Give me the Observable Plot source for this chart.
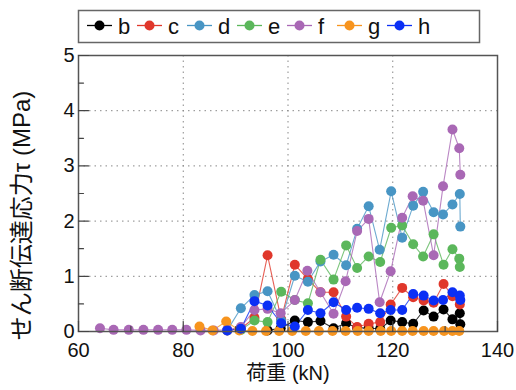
<!DOCTYPE html>
<html><head><meta charset="utf-8">
<script src="https://cdn.jsdelivr.net/npm/d3@7"></script>
<script src="https://cdn.jsdelivr.net/npm/@observablehq/plot@0.6"></script>
<style>
body{margin:0;background:#fff;font-family:"Liberation Sans",Arial,sans-serif;}
#wrap{position:relative;width:516px;height:390px;overflow:hidden;}
#legend{position:absolute;left:0;top:0;}
#chart{position:absolute;left:0;top:45px;}
</style></head><body>
<div id="wrap"><svg id="legend" width="516" height="45"></svg><div id="chart"></div></div>
<script>
// ---- data ----
const seriesNames = ["b","c","d","e","f","g","h"];
const seriesColors = ["#000000","#e0372b","#4895c4","#5bb75b","#a968b5","#f7941e","#0b2ff5"];

const bX = [96.1, 98.6, 101.3, 103.8, 106.2, 108.7, 111.1, 113.2, 115.4, 117.6, 119.6, 121.8, 123.9, 125.9, 127.8, 129.7, 131.4, 132.8, 132.9];
const bY = [0.02, 0.06, 0.20, 0.17, 0.19, 0.06, 0.15, 0.07, 0.06, 0.05, 0.20, 0.17, 0.14, 0.38, 0.27, 0.40, 0.22, 0.33, 0.13];

const cX = [88.4, 91.0, 93.6, 96.1, 98.7, 101.3, 103.8, 106.2, 108.7, 111.1, 113.2, 115.4, 117.6, 119.6, 121.8, 123.9, 125.9, 127.8, 129.7, 131.4, 132.8];
const cY = [0.02, 0.05, 0.25, 1.38, 0.22, 1.21, 0.95, 0.71, 0.71, 0.27, 0.08, 0.14, 0.17, 0.49, 0.79, 0.62, 0.56, 0.52, 0.86, 0.64, 0.49];

const dX = [88.4, 91.0, 93.6, 96.1, 98.7, 101.3, 103.8, 106.2, 108.7, 111.1, 113.2, 115.4, 117.5, 119.7, 121.8, 123.9, 125.8, 127.8, 129.6, 131.4, 132.8, 132.9];
const dY = [0.02, 0.42, 0.66, 0.73, 0.20, 1.01, 0.90, 1.27, 1.39, 1.20, 1.86, 2.27, 1.48, 2.54, 1.70, 2.28, 2.53, 2.16, 2.12, 2.30, 2.49, 1.90];

const eX = [91.0, 93.6, 96.1, 98.7, 101.3, 103.8, 106.2, 108.7, 111.1, 113.2, 115.4, 117.6, 119.7, 121.8, 123.9, 125.8, 127.8, 129.7, 131.4, 132.7, 132.8];
const eY = [0.03, 0.20, 0.17, 0.72, 0.57, 0.51, 1.30, 0.94, 1.56, 1.15, 1.36, 1.26, 1.88, 1.92, 1.58, 1.36, 1.76, 1.21, 1.49, 1.32, 1.17];

const fX = [64.1, 66.7, 69.6, 72.4, 75.2, 77.9, 80.6, 83.3, 85.8, 88.4, 91.0, 93.6, 96.1, 98.6, 101.3, 103.7, 106.2, 108.7, 111.0, 113.2, 115.4, 117.5, 119.6, 121.8, 123.8, 125.8, 127.8, 129.6, 131.4, 132.7, 132.9];
const fY = [0.06, 0.03, 0.03, 0.03, 0.03, 0.03, 0.03, 0.02, 0.02, 0.03, 0.08, 0.39, 0.41, 0.33, 0.57, 1.10, 0.71, 0.32, 0.91, 1.82, 2.04, 0.53, 1.09, 2.06, 2.45, 2.37, 1.38, 2.63, 3.66, 3.32, 2.84];

const gX = [83.1, 85.6, 88.2, 90.7, 93.2, 95.8, 98.3, 100.8, 103.4, 105.9, 108.5, 111.0, 113.3, 115.4, 117.7, 119.7, 121.8, 123.8, 125.9, 127.8, 129.8, 131.4, 132.7];
const gY = [0.09, 0.02, 0.18, 0.02, 0.01, 0.01, 0.01, 0.01, 0.01, 0.01, 0.01, 0.01, 0.01, 0.01, 0.01, 0.01, 0.01, 0.01, 0.01, 0.01, 0.01, 0.01, 0.01];

const hX = [88.4, 91.0, 93.6, 96.1, 98.7, 101.3, 103.8, 106.2, 108.7, 111.1, 113.2, 115.4, 117.6, 119.6, 121.8, 123.9, 125.9, 127.8, 129.6, 131.4, 132.8, 132.9];
const hY = [0.02, 0.05, 0.55, 0.47, 0.15, 0.09, 0.39, 0.33, 0.53, 0.39, 0.43, 0.41, 0.33, 0.39, 0.39, 0.68, 0.65, 0.56, 0.57, 0.71, 0.65, 0.57];

const xTicks = [60, 80, 100, 120, 140];
const xMinor = [70, 90, 110, 130];
const yTicks = [0, 1, 2, 3, 4, 5];
const yMinor = [0.5, 1.5, 2.5, 3.5, 4.5];
const xGrid = [80, 100, 120];
const yGrid = [1, 2, 3, 4];
const xLabel = "荷重 (kN)";
const yLabel = "せん断伝達応力τ (MPa)";

// ---- table ----
const pairs = [[bX,bY],[cX,cY],[dX,dY],[eX,eY],[fX,fY],[gX,gY],[hX,hY]];
const rows = [];
pairs.forEach(([xs, ys], k) => xs.forEach((x, i) => rows.push({s: seriesNames[k], x, y: ys[i], i})));

// ---- legend ----
const leg = d3.select("#legend");
leg.append("rect").attr("x", 78.5).attr("y", 10.5).attr("width", 401).attr("height", 32)
  .attr("fill", "#fff").attr("stroke", "#666").attr("stroke-width", 1.5);
seriesNames.forEach((n, i) => {
  const x0 = 87 + i * 50;
  const g = leg.append("g");
  g.append("line").attr("x1", x0).attr("x2", x0 + 25).attr("y1", 25.5).attr("y2", 25.5)
    .attr("stroke", seriesColors[i]).attr("stroke-width", 1.3);
  g.append("circle").attr("cx", x0 + 12.5).attr("cy", 25.5).attr("r", 5).attr("fill", seriesColors[i]);
  g.append("text").attr("x", x0 + 31).attr("y", 34).attr("font-size", 22)
    .attr("font-family", "Liberation Sans, Arial, sans-serif").attr("fill", "#111").text(n);
});

// ---- plot ----
const tickShape = {draw(context, l) { context.moveTo(0, 0); context.lineTo(0, -l); }};
const x0 = () => 60, y0 = () => 0;
const chart = Plot.plot({
  width: 516, height: 345,
  marginLeft: 78, marginRight: 19, marginTop: 10, marginBottom: 59,
  x: {domain: [60, 140]},
  y: {domain: [0, 5]},
  color: {domain: seriesNames, range: seriesColors},
  style: {fontFamily: "Liberation Sans, Arial, sans-serif", fontSize: "20px", color: "#111", background: "#fff", overflow: "visible"},
  marks: [
    Plot.gridX(xGrid, {stroke: "#888", strokeOpacity: 1, strokeDasharray: "1.5,4"}),
    Plot.gridY(yGrid, {stroke: "#888", strokeOpacity: 1, strokeDasharray: "1.5,4"}),
    Plot.line(rows, {x: "x", y: "y", z: "s", stroke: "s", strokeWidth: 1.1, strokeOpacity: 0.8}),
    Plot.dot(rows, {x: "x", y: "y", fill: "s", r: 5}),
    Plot.frame({stroke: "#555", strokeWidth: 1.5}),
    // inward ticks
    Plot.vector(xTicks, {x: d => d, y: y0, length: 10, rotate: 0, anchor: "start", shape: tickShape, stroke: "#444", strokeWidth: 1.2}),
    Plot.vector(xMinor, {x: d => d, y: y0, length: 5, rotate: 0, anchor: "start", shape: tickShape, stroke: "#444", strokeWidth: 1.2}),
    Plot.vector(yTicks, {x: x0, y: d => d, length: 10, rotate: 90, anchor: "start", shape: tickShape, stroke: "#444", strokeWidth: 1.2}),
    Plot.vector(yMinor, {x: x0, y: d => d, length: 5, rotate: 90, anchor: "start", shape: tickShape, stroke: "#444", strokeWidth: 1.2}),
    Plot.axisX(xTicks, {tickSize: 0, tickPadding: 11, fontSize: 20, label: null}),
    Plot.axisY(yTicks, {tickSize: 0, tickPadding: 4, fontSize: 20, label: null, tickFormat: d3.format("d")}),
    Plot.text([xLabel], {text: d => d, frameAnchor: "bottom", dy: 48, fontSize: 20,
      fontFamily: "Liberation Sans, Noto Sans CJK JP, sans-serif", fill: "#111"}),
    Plot.text([yLabel], {text: d => d, frameAnchor: "left", textAnchor: "middle", rotate: -90, dx: -56, dy: 22, fontSize: 24,
      fontFamily: "Liberation Sans, Noto Sans CJK JP, sans-serif", fill: "#111"})
  ]
});
document.getElementById("chart").appendChild(chart);
</script>
</body></html>
